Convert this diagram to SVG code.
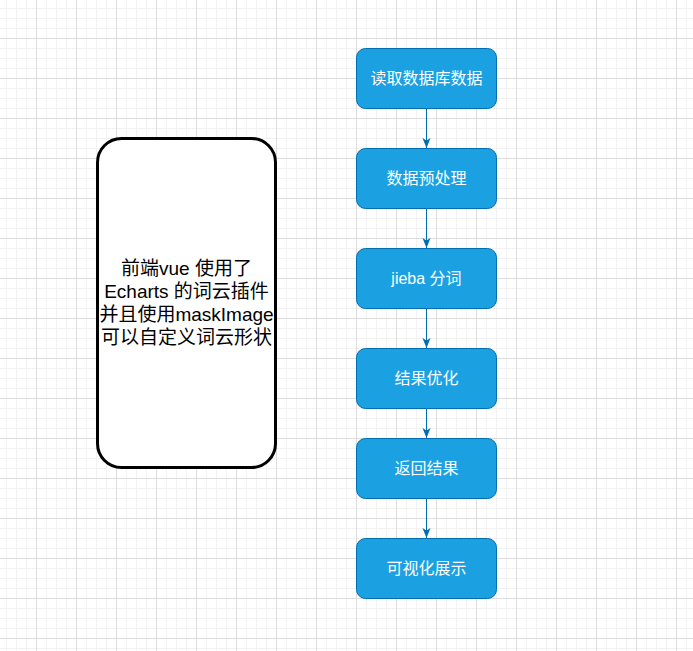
<svg xmlns="http://www.w3.org/2000/svg" width="693" height="651" viewBox="0 0 693 651">
<style>
.box{fill:#1ba1e2;stroke:#006eaf;stroke-width:1}
.lbl{fill:#ffffff;font-family:"Liberation Sans","Noto Sans CJK SC",sans-serif;font-size:16px;text-anchor:middle;dominant-baseline:central}
.note{fill:#000000;font-family:"Liberation Sans","Noto Sans CJK SC",sans-serif;font-size:19px;text-anchor:middle}
.edge{stroke:#006eaf;stroke-width:1;fill:none}
</style>
<defs>
<pattern id="grid" x="36" y="38" width="40" height="40" patternUnits="userSpaceOnUse">
<rect width="40" height="40" fill="#ffffff"/>
<g fill="#f2f2f2">
<rect x="10" y="0" width="1" height="40"/><rect x="20" y="0" width="1" height="40"/><rect x="30" y="0" width="1" height="40"/>
<rect x="0" y="10" width="40" height="1"/><rect x="0" y="20" width="40" height="1"/><rect x="0" y="30" width="40" height="1"/>
</g>
<g fill="#dddddd">
<rect x="0" y="0" width="1" height="40"/><rect x="0" y="0" width="40" height="1"/>
</g>
</pattern>
<marker id="arr" markerWidth="10" markerHeight="10" viewBox="0 0 10 10" refX="10" refY="5" orient="auto" markerUnits="userSpaceOnUse">
<path d="M0,1 L10,5 L0,9 L2.5,5 Z" fill="#006eaf"/>
</marker>
</defs>
<rect width="693" height="651" fill="url(#grid)"/>
<g id="connectors">
<path class="edge" d="M426.5,108.5 V148" marker-end="url(#arr)"/>
<path class="edge" d="M426.5,208.5 V248" marker-end="url(#arr)"/>
<path class="edge" d="M426.5,308.5 V348" marker-end="url(#arr)"/>
<path class="edge" d="M426.5,408.5 V438" marker-end="url(#arr)"/>
<path class="edge" d="M426.5,498.5 V538" marker-end="url(#arr)"/>
</g>
<g id="note">
<rect x="97.5" y="138.5" width="178" height="329" rx="24" ry="24" fill="#ffffff" stroke="#000000" stroke-width="3"/>
<text class="note" x="186.5" y="275">前端vue 使用了</text>
<text class="note" x="186.5" y="298">Echarts 的词云插件</text>
<text class="note" x="186.5" y="321">并且使用maskImage</text>
<text class="note" x="186.5" y="344">可以自定义词云形状</text>
</g>
<g id="n1"><rect class="box" x="356.5" y="48.5" width="140" height="60" rx="9"/><text class="lbl" x="426.5" y="78.5">读取数据库数据</text></g>
<g id="n2"><rect class="box" x="356.5" y="148.5" width="140" height="60" rx="9"/><text class="lbl" x="426.5" y="178.5">数据预处理</text></g>
<g id="n3"><rect class="box" x="356.5" y="248.5" width="140" height="60" rx="9"/><text class="lbl" x="426.5" y="278.5">jieba 分词</text></g>
<g id="n4"><rect class="box" x="356.5" y="348.5" width="140" height="60" rx="9"/><text class="lbl" x="426.5" y="378.5">结果优化</text></g>
<g id="n5"><rect class="box" x="356.5" y="438.5" width="140" height="60" rx="9"/><text class="lbl" x="426.5" y="468.5">返回结果</text></g>
<g id="n6"><rect class="box" x="356.5" y="538.5" width="140" height="60" rx="9"/><text class="lbl" x="426.5" y="568.5">可视化展示</text></g>
</svg>
